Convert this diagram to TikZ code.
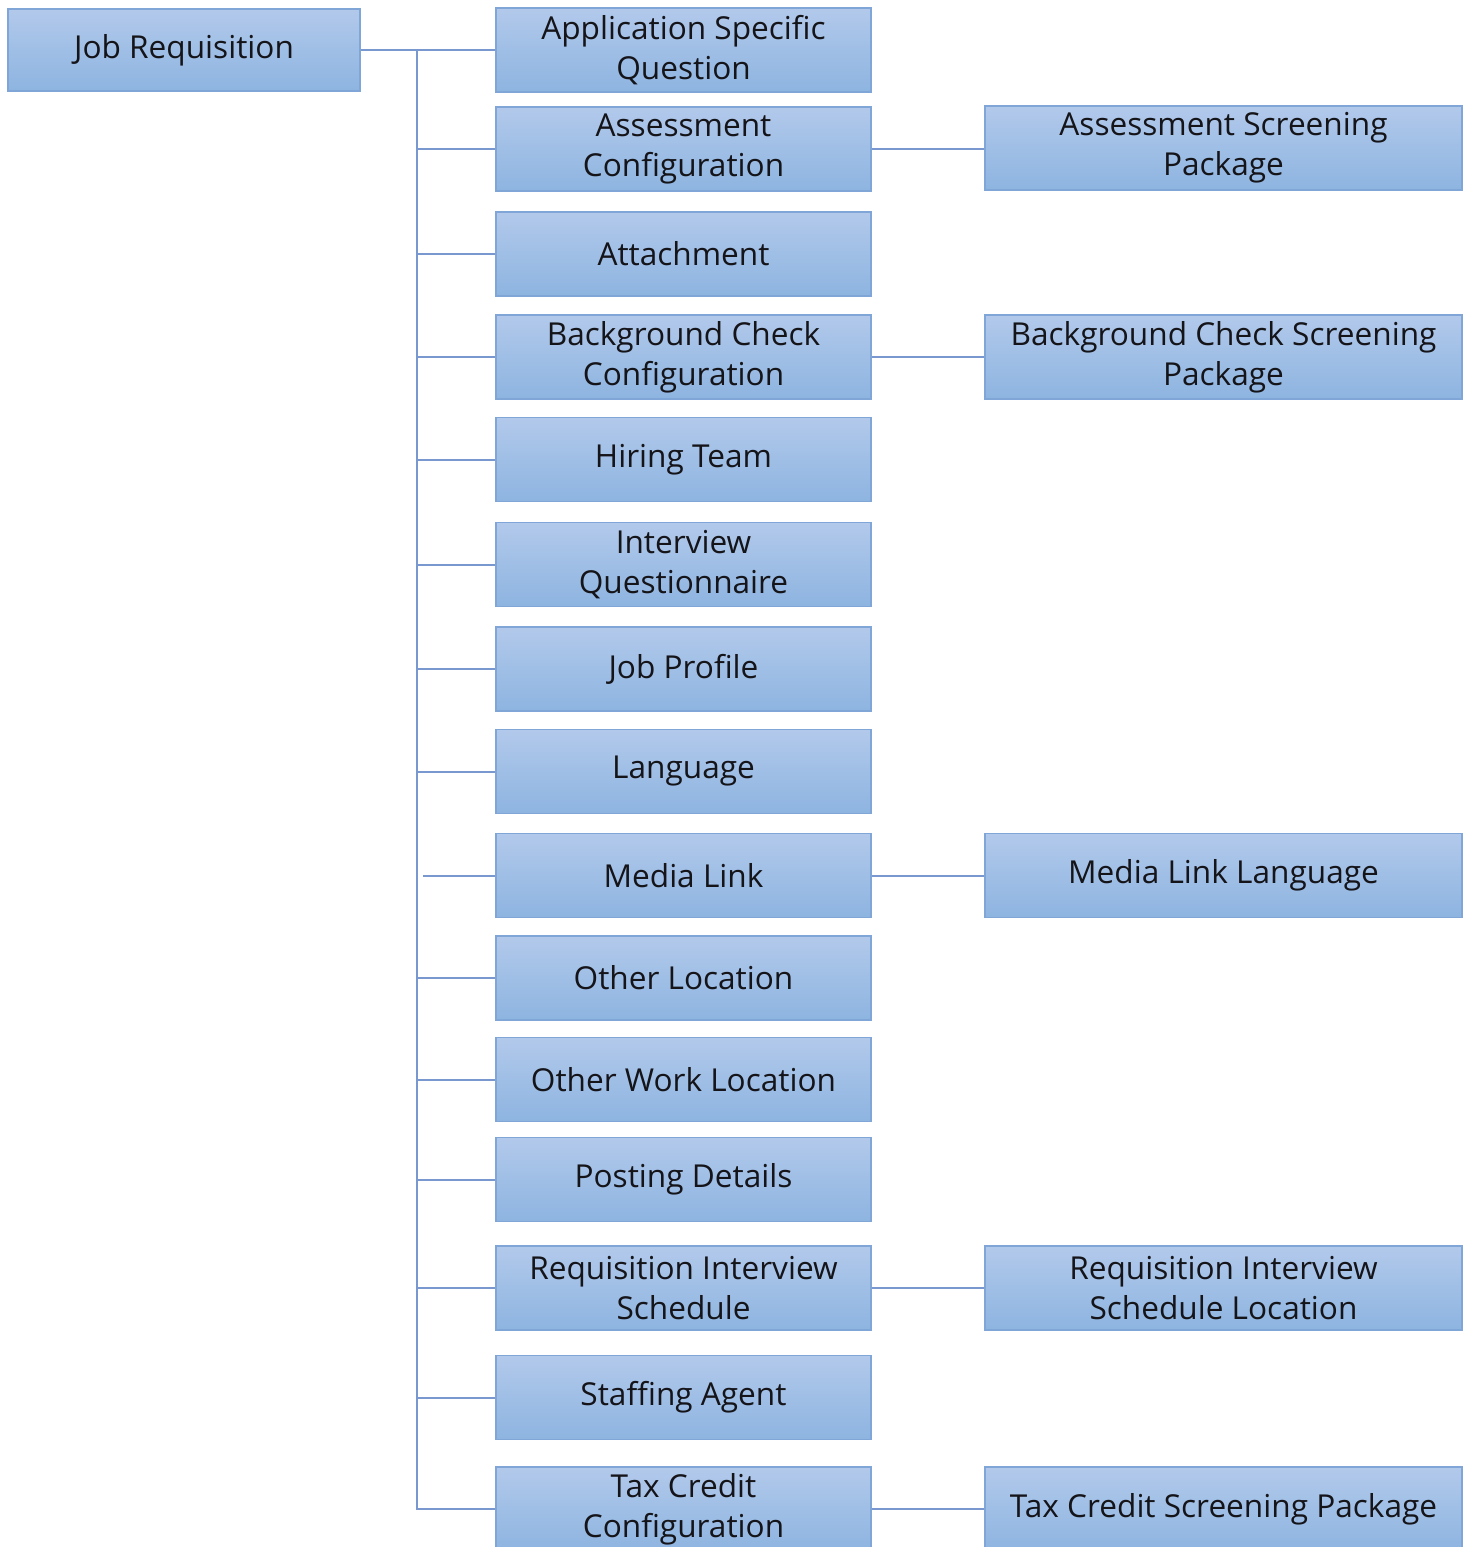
\documentclass[tikz,border=0pt]{standalone}
\usepackage{fontspec}
\setmainfont{Open Sans}
\definecolor{linec}{RGB}{122,152,208}
\definecolor{boxtop}{RGB}{178,201,235}
\definecolor{boxbot}{RGB}{141,180,224}
\definecolor{boxdraw}{RGB}{128,166,216}
\definecolor{txt}{RGB}{20,20,25}
\tikzset{
  ebox/.style={draw=boxdraw, line width=0.8pt, top color=boxtop, bottom color=boxbot,
    inner sep=0pt, align=center, text=txt, font=\fontsize{15.8}{20}\selectfont},
  leftbox/.style={ebox, minimum width=176pt, minimum height=41pt},
  midbox/.style={ebox, minimum width=187.5pt, minimum height=42pt},
  rightbox/.style={ebox, minimum width=238.5pt, minimum height=42pt},
  conn/.style={draw=linec, line width=1pt}
}
\begin{document}
\begin{tikzpicture}[x=0.5pt,y=-0.5pt]
\clip (0,0) rectangle (1470,1547);
\fill[white] (0,0) rectangle (1470,1547);
\node[leftbox] (jr) at (184,50) {Job Requisition};
\node[midbox] (m1) at (683.5,50) {Application Specific\\Question};
\node[midbox] (m2) at (683.5,149) {Assessment\\Configuration};
\node[midbox] (m3) at (683.5,254) {Attachment};
\node[midbox] (m4) at (683.5,357) {Background Check\\Configuration};
\node[midbox] (m5) at (683.5,459.5) {Hiring Team};
\node[midbox] (m6) at (683.5,564.5) {Interview\\Questionnaire};
\node[midbox] (m7) at (683.5,669) {Job Profile};
\node[midbox] (m8) at (683.5,771.5) {Language};
\node[midbox] (m9) at (683.5,875.5) {Media Link};
\node[midbox] (m10) at (683.5,978) {Other Location};
\node[midbox] (m11) at (683.5,1079.5) {Other Work Location};
\node[midbox] (m12) at (683.5,1179.5) {Posting Details};
\node[midbox] (m13) at (683.5,1288) {Requisition Interview\\Schedule};
\node[midbox] (m14) at (683.5,1397.5) {Staffing Agent};
\node[midbox] (m15) at (683.5,1509) {Tax Credit\\Configuration};
\node[rightbox] (r2) at (1223.5,148) {Assessment Screening\\Package};
\node[rightbox] (r4) at (1223.5,357) {Background Check Screening\\Package};
\node[rightbox] (r9) at (1223.5,875.5) {Media Link Language};
\node[rightbox] (r13) at (1223.5,1288) {Requisition Interview\\Schedule Location};
\node[rightbox] (r15) at (1223.5,1509) {Tax Credit Screening Package};
\coordinate (ttop) at (417,50);
\coordinate (tbot) at (417,1509);
\draw[conn] (jr.east) -- (m1.west);
\draw[conn] (ttop) -- (tbot) -- (m15.west);
\foreach \m in {m2,m3,m4,m5,m6,m7,m8,m10,m11,m12,m13,m14}
  \draw[conn] (\m.west -| ttop) -- (\m.west);
\draw[conn] ([xshift=3pt]m9.west -| ttop) -- (m9.west);
\draw[conn] (m2.east) -- (m2.east -| r2.west);
\draw[conn] (m4.east) -- (r4.west);
\draw[conn] (m9.east) -- (r9.west);
\draw[conn] (m13.east) -- (r13.west);
\draw[conn] (m15.east) -- (r15.west);
\end{tikzpicture}
\end{document}
